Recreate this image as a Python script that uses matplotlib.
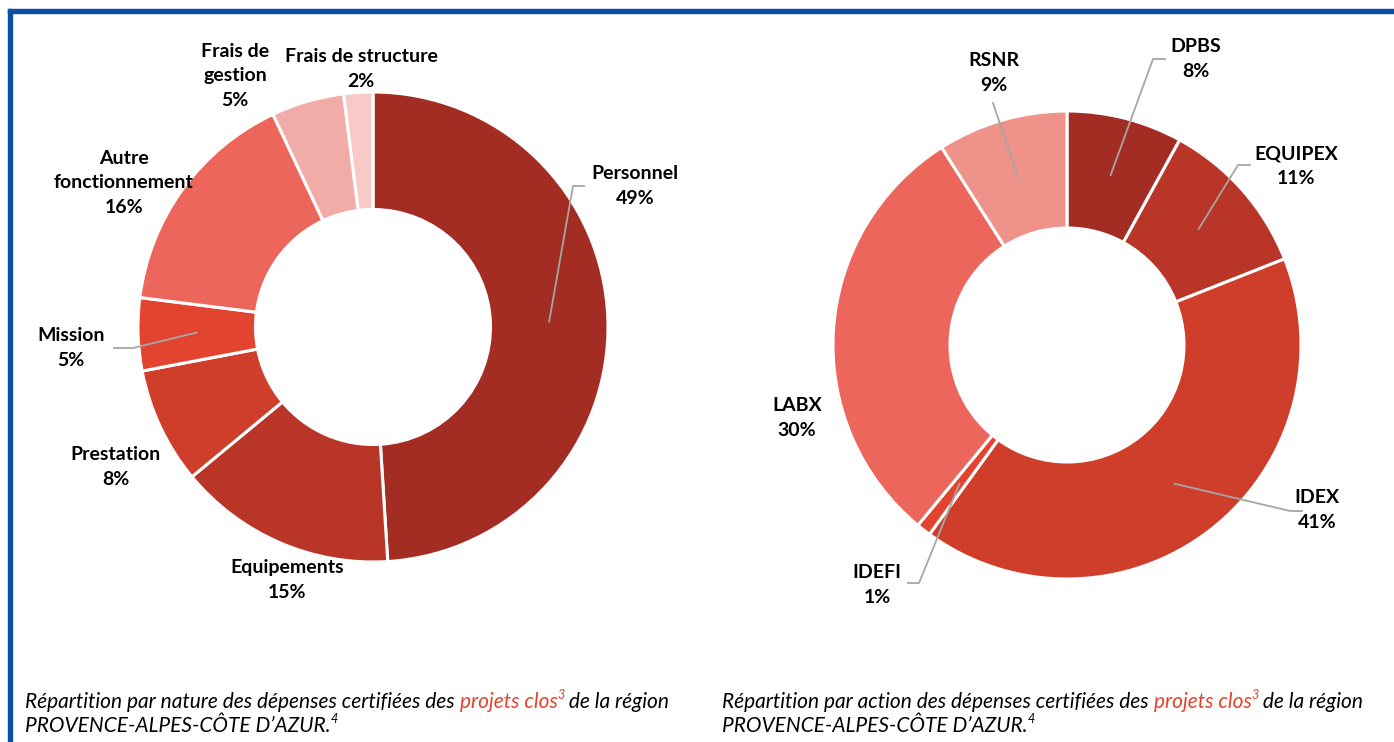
import numpy as np
import matplotlib
matplotlib.use("Agg")
import matplotlib.pyplot as plt
from matplotlib.patches import Rectangle

# --- data ---
nature_labels = ["Personnel", "Equipements", "Prestation", "Mission",
                 "Autre\nfonctionnement", "Frais de\ngestion", "Frais de structure"]
nature_values = [49, 15, 8, 5, 16, 5, 2]
nature_colors = ["#A32D22", "#B93527", "#CF3D2B", "#E24430",
                 "#EC665B", "#F2ACA8", "#F7CAC7"]

action_labels = ["DPBS", "EQUIPEX", "IDEX", "IDEFI", "LABX", "RSNR"]
action_values = [8, 11, 41, 1, 30, 9]
action_colors = ["#A32D22", "#B93527", "#CF3D2B", "#E24430", "#EC665B", "#EF928A"]

# label layout in pixels (x, y from top); leader = (elbow, end) or None
nature_text_pos = [(635, 186), (287, 580), (116, 467), (71, 348),
                   (124, 183), (235, 76), (361, 69)]
nature_leaders = [((573, 186), (584, 186)), None, None, ((133, 348), (114, 348)),
                  None, None, None]
action_text_pos = [(1196, 59), (1296, 166), (1317, 510), (877, 585),
                   (797, 418), (994, 73)]
action_leaders = [((1153, 59), (1165, 59)), ((1238, 165), (1250, 165)),
                  ((1290, 511), (1302, 511)), ((919, 583), (908, 583)),
                  None, ((993, 103), None)]

W, H = 1394, 742
LINE_GREY = "#A6A6A6"
plt.rcParams['font.family'] = ['Lato', 'DejaVu Sans']

fig = plt.figure(figsize=(W / 100, H / 100), dpi=100)
ax = fig.add_axes([0, 0, 1, 1])


def py(y):
    return H - y


def donut(values, labels, colors, center, radius, text_pos, leaders):
    cx, cy = center
    wedges, _ = ax.pie(values, colors=colors, startangle=90, counterclock=False,
                       center=(cx, py(cy)), radius=radius,
                       wedgeprops=dict(width=radius * 0.5, edgecolor="white",
                                       linewidth=2.2))
    for w, lab, val, tp, ld in zip(wedges, labels, values, text_pos, leaders):
        ax.text(tp[0], py(tp[1]), f"{lab}\n{val}%", ha="center", va="center",
                fontsize=14, fontweight="bold", color="black", linespacing=1.55)
        if ld is None:
            continue
        ang = np.deg2rad((w.theta1 + w.theta2) / 2)
        sx = cx + 0.75 * radius * np.cos(ang)
        sy = py(cy) + 0.75 * radius * np.sin(ang)
        xs, ys = [sx, ld[0][0]], [sy, py(ld[0][1])]
        if ld[1] is not None:
            xs.append(ld[1][0])
            ys.append(py(ld[1][1]))
        ax.plot(xs, ys, color=LINE_GREY, lw=1.3)


donut(nature_values, nature_labels, nature_colors, (373, 327), 235,
      nature_text_pos, nature_leaders)
donut(action_values, action_labels, action_colors, (1067, 345), 234,
      action_text_pos, action_leaders)

ax.set_xlim(0, W)
ax.set_ylim(0, H)
ax.set_aspect("equal")
ax.axis("off")

# blue frame (left and top)
blue = "#0B4EA2"
fig.patches.append(Rectangle((8 / W, 0), 4 / W, 1 - 9 / H, transform=fig.transFigure,
                             color=blue, zorder=5))
fig.patches.append(Rectangle((8 / W, 1 - 13 / H), 1, 4 / H, transform=fig.transFigure,
                             color=blue, zorder=5))


def caption(x, y, what):
    kw = dict(fontsize=15, fontstyle="italic", color="black")
    t1 = ax.text(x, py(y), f"Répartition par {what} des dépenses certifiées des ",
                 va="baseline", ha="left", **kw)
    t2 = ax.annotate("projets clos", xy=(1, 0), xycoords=t1, va="bottom",
                     ha="left", fontsize=15, fontstyle="italic", color="#E8412C")
    t3 = ax.annotate("3", xy=(1, 0.55), xycoords=t2, va="bottom", ha="left",
                     fontsize=9, fontstyle="italic", color="#E8412C")
    ax.annotate(" de la région", xy=(1, 0), xycoords=t2, xytext=(7, 0),
                textcoords="offset pixels", va="bottom", ha="left", **kw)
    t5 = ax.text(x, py(y + 24), "PROVENCE-ALPES-CÔTE D’AZUR.", va="baseline",
                 ha="left", **kw)
    ax.annotate("4", xy=(1, 0.55), xycoords=t5, va="bottom", ha="left",
                fontsize=9, fontstyle="italic", color="black")


caption(25, 708, "nature")
caption(722, 708, "action")

fig.savefig("out.png", dpi=100)
